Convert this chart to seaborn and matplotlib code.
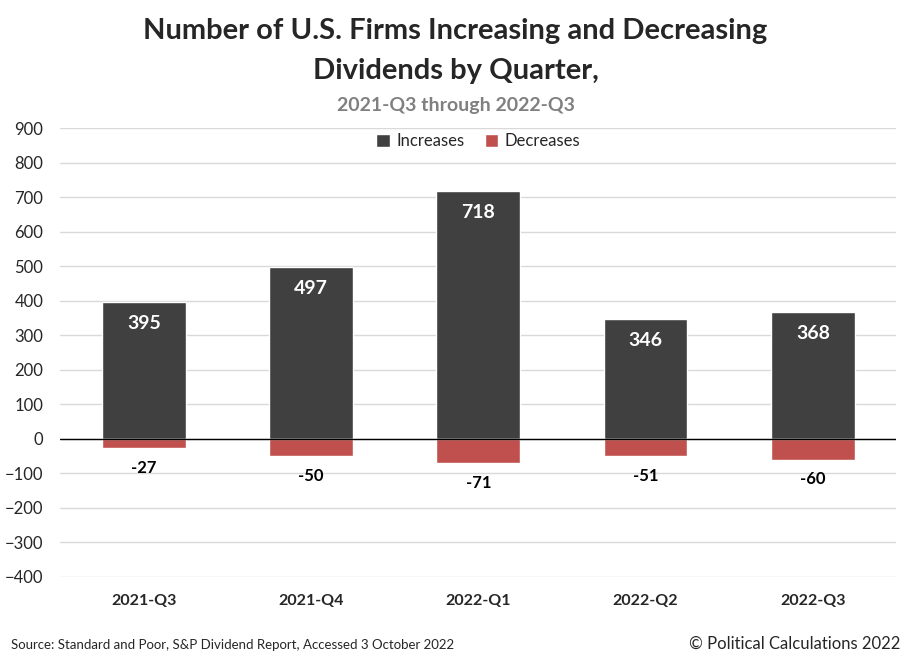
import matplotlib.pyplot as plt
import pandas as pd
import seaborn as sns

quarters = ['2021-Q3', '2021-Q4', '2022-Q1', '2022-Q2', '2022-Q3']
increases = [395, 497, 718, 346, 368]
decreases = [-27, -50, -71, -51, -60]

df = pd.DataFrame({
    'Quarter': quarters * 2,
    'Firms': increases + decreases,
    'Type': ['Increases'] * len(quarters) + ['Decreases'] * len(quarters),
})

sns.set_style('white')
plt.rcParams['font.family'] = ['Lato', 'DejaVu Sans']

fig = plt.figure(figsize=(9.11, 6.62), dpi=100)
ax = fig.add_axes([0.066, 0.1284, 0.918, 0.6782])

sns.barplot(data=df, x='Quarter', y='Firms', hue='Type', dodge=False, width=0.5,
            palette={'Increases': '#404040', 'Decreases': '#C0504D'},
            saturation=1, ax=ax, zorder=3)

ax.set_ylim(-400, 900)
ax.set_yticks(range(-400, 901, 100))
ax.yaxis.grid(True, color='#d9d9d9', linewidth=1)
ax.set_axisbelow(True)
ax.axhline(0, color='black', linewidth=1, zorder=4)
for s in ax.spines.values():
    s.set_visible(False)
ax.set_xlabel('')
ax.set_ylabel('')
ax.tick_params(axis='y', labelsize=12, pad=12, length=0)
ax.tick_params(axis='x', labelsize=11.5, pad=12, length=0)
for lbl in ax.get_xticklabels():
    lbl.set_fontweight('bold')

# value labels
for i, v in enumerate(increases):
    ax.annotate(f'{v}', (i, v), xytext=(0, -15.5), textcoords='offset points',
                ha='center', va='center', color='white', fontsize=14, fontweight='bold')
for i, v in enumerate(decreases):
    ax.annotate(f'{v}', (i, v), xytext=(0, -14), textcoords='offset points',
                ha='center', va='center', color='black', fontsize=12, fontweight='bold')

ax.legend(loc='upper center', bbox_to_anchor=(0.5, 1.022), ncol=2, frameon=False,
          fontsize=12, handlelength=0.8, handleheight=0.8, columnspacing=1.2,
          handletextpad=0.4)

fig.text(0.5, 0.953, 'Number of U.S. Firms Increasing and Decreasing',
         ha='center', va='center', fontsize=21, fontweight='bold')
fig.text(0.5, 0.892, 'Dividends by Quarter,', ha='center', va='center',
         fontsize=21, fontweight='bold')
fig.text(0.5, 0.84, '2021-Q3 through 2022-Q3', ha='center', va='center',
         fontsize=14, fontweight='bold', color='#808080')
fig.text(0.012, 0.025, 'Source: Standard and Poor, S&P Dividend Report, Accessed 3 October 2022',
         ha='left', va='center', fontsize=9.5)
fig.text(0.988, 0.028, '\u00a9 Political Calculations 2022', ha='right', va='center',
         fontsize=12)

fig.savefig('out.png', dpi=100)
